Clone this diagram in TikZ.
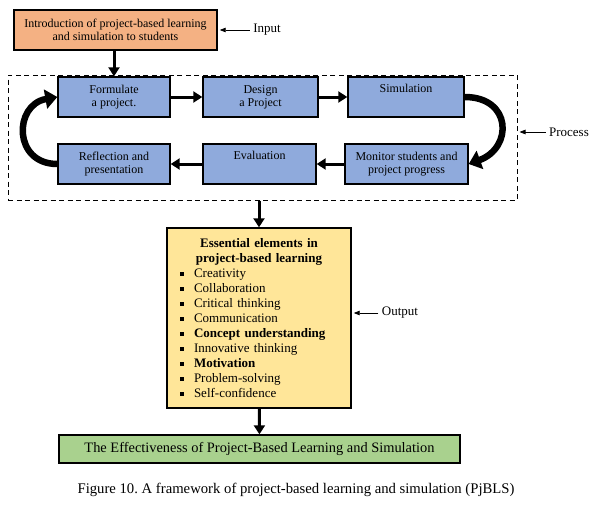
\documentclass[tikz,border=0pt]{standalone}
\usepackage{fontspec}
\setmainfont{Liberation Serif}
\usepackage{xcolor}
\usepackage{tikz}
\usetikzlibrary{shapes, arrows.meta, positioning, fit}
\definecolor{fworange}{RGB}{244,177,131}
\definecolor{fwblue}{RGB}{143,170,220}
\definecolor{fwyellow}{RGB}{255,230,153}
\definecolor{fwgreen}{RGB}{169,209,142}
\newcommand{\sqbul}{\makebox[14pt][l]{\rule[1.5pt]{3.6pt}{3.6pt}}}
\frenchspacing

\begin{document}
\begin{tikzpicture}[x=1pt, y=-1pt,
    every node/.style={font=\fontsize{12}{13}\selectfont},
    stagebox/.style={draw, line width=1.4pt, fill=fwblue, minimum height=40pt, align=center, inner sep=0pt},
    tagtext/.style={font=\fontsize{13}{15}\selectfont},
    bigarrow/.style={line width=3pt, -{Triangle[length=9pt,width=11pt]}},
    looparrow/.style={line width=6.5pt, -{Triangle[length=12pt,width=19pt]}},
    tagarrow/.style={line width=0.8pt, shorten >=2pt, -{Triangle[length=6pt,width=4.5pt]}}]
  \useasboundingbox (0,0) rectangle (600,506);
  % input
  \node[draw, line width=1.4pt, fill=fworange, minimum width=203pt, minimum height=40pt, align=center] (intro) at (115.5,30) {Introduction of project-based learning\\and simulation to students};
  \node[tagtext] (inlbl) at (267,30) {Input};
  % process loop
  \node[draw, dashed, line width=1pt, dash pattern=on 5pt off 3.5pt, minimum width=509pt, minimum height=125pt] (proc) at (262.5,137.5) {};
  \node[stagebox, minimum width=112pt] (form) at (114,97) {Formulate\\a project.};
  \node[stagebox, minimum width=115pt] (design) at (260.5,97) {Design\\a Project};
  \node[stagebox, minimum width=116pt] (sim) at (406,97) {Simulation\\\strut};
  \node[stagebox, minimum width=123pt] (monitor) at (406.5,164) {Monitor students and\\project progress};
  \node[stagebox, minimum width=113pt] (eval) at (259.5,164) {Evaluation\\\strut};
  \node[stagebox, minimum width=112pt] (refl) at (114,164) {Reflection and\\presentation};
  \node[tagtext] (proclbl) at (569,132) {Process};
  % output
  \node[draw, line width=1.4pt, fill=fwyellow, minimum width=184pt, minimum height=180pt, text width=158pt, inner xsep=13pt, align=left, font=\fontsize{13}{15}\selectfont] (elem) at (259,318) {%
    \makebox[\linewidth]{\bfseries Essential elements in}\\
    \makebox[\linewidth]{\bfseries project-based learning}\\
    \sqbul Creativity\\
    \sqbul Collaboration\\
    \sqbul Critical thinking\\
    \sqbul Communication\\
    \sqbul\textbf{Concept understanding}\\
    \sqbul Innovative thinking\\
    \sqbul\textbf{Motivation}\\
    \sqbul Problem-solving\\
    \sqbul Self-confidence};
  \node[tagtext] (outlbl) at (400,313) {Output};
  \node[draw, line width=1.4pt, fill=fwgreen, minimum width=401pt, minimum height=28pt, font=\fontsize{14.4}{16}\selectfont] (effect) at (259.5,449) {The Effectiveness of Project-Based Learning and Simulation};
  \node[font=\fontsize{14.7}{16}\selectfont] (caption) at (296,490) {Figure 10. A framework of project-based learning and simulation (PjBLS)};
  % arrows
  \draw[bigarrow] (intro.south -| form.north) -- (form.north);
  \draw[bigarrow] (form) -- (design);
  \draw[bigarrow] (design) -- (sim);
  \draw[bigarrow] (monitor) -- (eval);
  \draw[bigarrow] (eval) -- (refl);
  \draw[looparrow] (sim.east) to[out=0, in=20, looseness=1.8] (monitor.east);
  \draw[looparrow] (refl.west) to[out=180, in=190, looseness=1.7] (form.west);
  \draw[bigarrow] (proc.south -| elem.north) -- (elem.north);
  \draw[bigarrow] (elem) -- (effect);
  \draw[tagarrow] (inlbl.west) -- (intro.east |- inlbl);
  \draw[tagarrow] (proclbl.west) -- (proc.east |- proclbl);
  \draw[tagarrow] (outlbl.west) -- (elem.east |- outlbl);
\end{tikzpicture}
\end{document}
